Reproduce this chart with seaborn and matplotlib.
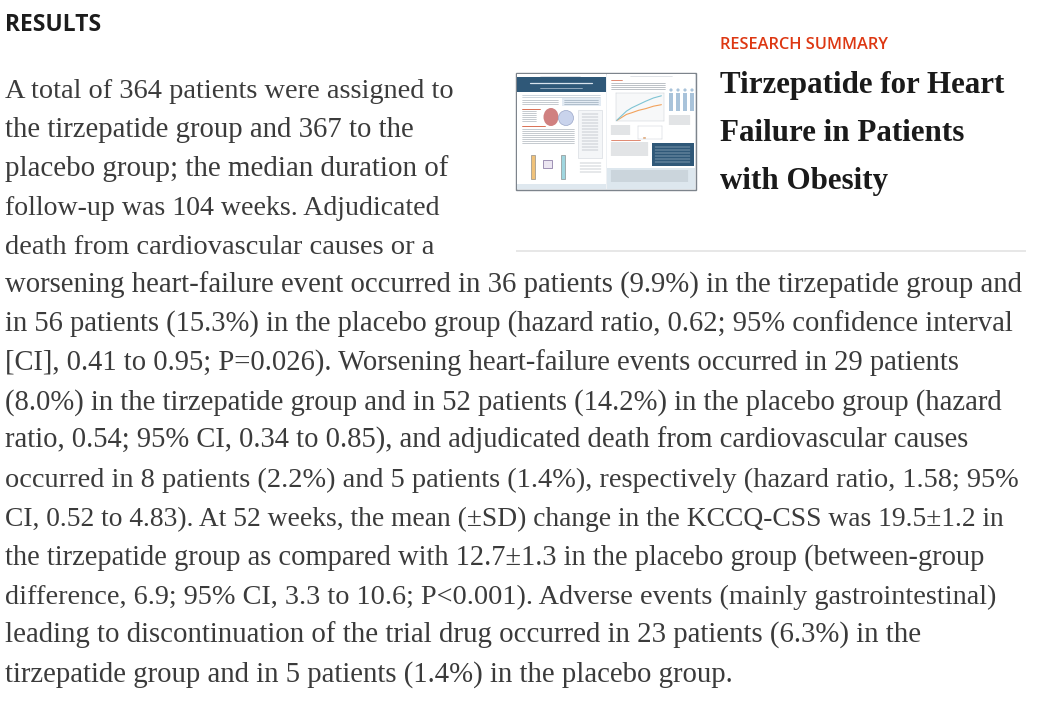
import matplotlib
matplotlib.use("Agg")
import matplotlib.pyplot as plt
import seaborn as sns
import pandas as pd
from matplotlib.patches import Rectangle, Ellipse

# ---------------- content ----------------
section_label = "RESULTS"
kicker = "RESEARCH SUMMARY"
title_lines = ["Tirzepatide for Heart", "Failure in Patients", "with Obesity"]

left_col_lines = [
    "A total of 364 patients were assigned to",
    "the tirzepatide group and 367 to the",
    "placebo group; the median duration of",
    "follow-up was 104 weeks. Adjudicated",
    "death from cardiovascular causes or a",
]
full_lines = [
    "worsening heart-failure event occurred in 36 patients (9.9%) in the tirzepatide group and",
    "in 56 patients (15.3%) in the placebo group (hazard ratio, 0.62; 95% confidence interval",
    "[CI], 0.41 to 0.95; P=0.026). Worsening heart-failure events occurred in 29 patients",
    "(8.0%) in the tirzepatide group and in 52 patients (14.2%) in the placebo group (hazard",
    "ratio, 0.54; 95% CI, 0.34 to 0.85), and adjudicated death from cardiovascular causes",
    "occurred in 8 patients (2.2%) and 5 patients (1.4%), respectively (hazard ratio, 1.58; 95%",
    "CI, 0.52 to 4.83). At 52 weeks, the mean (\u00b1SD) change in the KCCQ-CSS was 19.5\u00b11.2 in",
    "the tirzepatide group as compared with 12.7\u00b11.3 in the placebo group (between-group",
    "difference, 6.9; 95% CI, 3.3 to 10.6; P<0.001). Adverse events (mainly gastrointestinal)",
    "leading to discontinuation of the trial drug occurred in 23 patients (6.3%) in the",
    "tirzepatide group and in 5 patients (1.4%) in the placebo group.",
]
# right edge (px) of each typeset line in the reference layout
line_right_edges = [453, 413, 448, 439, 434,
                    1024, 1012, 960, 1004, 967, 1018, 1004, 986, 997, 922, 733]

# thumbnail mini chart (cumulative incidence, %)
thumb_weeks = [0, 12, 24, 36, 52, 68, 86, 104]
thumb_placebo = [0, 3, 6, 8, 10, 12, 14, 15.3]
thumb_tirz = [0, 2, 4, 5, 6.5, 7.5, 9, 9.9]
thumb_bar_groups = ["Tirzepatide", "Placebo"]
thumb_bar_values = [6.3, 1.4]

# ---------------- styling ----------------
sns.set_theme(style="white")
plt.rcParams["font.family"] = ["Liberation Serif", "DejaVu Sans"]

W, H = 1044, 703
fig = plt.figure(figsize=(W / 100, H / 100), dpi=100)
fig.patch.set_facecolor("white")
ax = fig.add_axes([0, 0, 1, 1])
ax.set_xlim(0, W)
ax.set_ylim(H, 0)
ax.axis("off")
renderer = fig.canvas.get_renderer()


def text_width(s, size, **kw):
    t = ax.text(0, 0, s, fontsize=size, **kw)
    w = t.get_window_extent(renderer=renderer).width
    t.remove()
    return w


def fit_size(s, target, **kw):
    return 20 * target / text_width(s, 20, **kw)


body_color = "#3b3b3b"
serif = ["Liberation Serif", "DejaVu Serif"]
sans = ["Open Sans", "DejaVu Sans"]

# header
rs = fit_size(section_label, 96, family=sans, fontweight="bold")
ax.text(5, 31, section_label, fontsize=rs, family=sans, fontweight="bold",
        color="#1c1c1c", va="baseline", ha="left")

ks = fit_size(kicker, 169, family=sans, fontweight="semibold")
ax.text(720, 49, kicker, fontsize=ks, family=sans, fontweight="semibold",
        color="#dd3712", va="baseline", ha="left")

ts = fit_size(title_lines[0], 285, family=serif, fontweight="bold")
for i, line in enumerate(title_lines):
    ax.text(720, 93 + 48 * i, line, fontsize=ts, family=serif, fontweight="bold",
            color="#1a1a1a", va="baseline", ha="left")

# separator
ax.plot([516, 1026], [250.5, 250.5], color="#e3e3e3", lw=1.2, solid_capstyle="butt")

# body text
pitch = 38.9
x0 = 5
all_lines = left_col_lines + full_lines
for i, (line, right) in enumerate(zip(all_lines, line_right_edges)):
    size = fit_size(line, right - x0, family=serif)
    ax.text(x0, 98 + pitch * i, line, fontsize=size, family=serif, color=body_color,
            va="baseline", ha="left")

# ---------------- thumbnail ----------------
ax.add_patch(Rectangle((516, 73), 180, 117, facecolor="#eef1f4", edgecolor="#7d848c", lw=1))
ax.add_patch(Rectangle((517, 74), 88.5, 115, facecolor="white", edgecolor="none"))
ax.add_patch(Rectangle((607, 74), 88, 115, facecolor="white", edgecolor="none"))
# left page header band
ax.add_patch(Rectangle((517, 77), 88.5, 15, facecolor="#2f5878", edgecolor="none"))
ax.plot([530, 592], [83, 83], color="#d9e4ee", lw=0.9)
ax.plot([540, 582], [87.5, 87.5], color="#b8c8d8", lw=0.5)
ax.plot([540, 580], [75.5, 75.5], color="#c9ced4", lw=0.4)
ax.plot([630, 672], [75.5, 75.5], color="#c9ced4", lw=0.4)
# left page text strips
for y in [94.5, 96.5]:
    ax.plot([522, 600], [y, y], color="#a8b6c4", lw=0.4)
for y in [100, 102, 104]:
    ax.plot([522, 558], [y, y], color="#9aa3ab", lw=0.4)
ax.add_patch(Rectangle((562, 98), 39, 8, facecolor="#e3ebf3", edgecolor="none"))
for y in [100, 102, 104]:
    ax.plot([564, 598], [y, y], color="#8a9cad", lw=0.4)
ax.plot([522, 540], [108.5, 108.5], color="#d35a3a", lw=0.6)
for y in [111, 113, 115, 117, 119, 121]:
    ax.plot([522, 536], [y, y], color="#9aa3ab", lw=0.4)
ax.add_patch(Ellipse((551, 117), 15, 18, facecolor="#c86a6a", edgecolor="none", alpha=0.85))
ax.add_patch(Ellipse((566, 118), 15, 15, facecolor="#c9d3ec", edgecolor="#9aa6c8", lw=0.5))
ax.plot([522, 545], [126, 126], color="#d35a3a", lw=0.6)
for y in [129, 131, 133, 135, 137, 139, 141, 143]:
    ax.plot([522, 574], [y, y], color="#9aa3ab", lw=0.4)
# sidebar
ax.add_patch(Rectangle((578, 110), 24, 48, facecolor="#f4f6f8", edgecolor="#d0d6dc", lw=0.4))
for y in [114, 117, 120, 123, 126, 129, 132, 135, 138, 141, 144, 147, 150]:
    ax.plot([582, 598], [y, y], color="#9aa3ab", lw=0.35)
for y in [163, 166, 169, 172]:
    ax.plot([580, 601], [y, y], color="#9aa3ab", lw=0.35)
# tubes
ax.add_patch(Rectangle((531, 155), 4, 24, facecolor="#f0c27a", edgecolor="#7a7a7a", lw=0.4))
ax.add_patch(Rectangle((561, 155), 4, 24, facecolor="#9fd6df", edgecolor="#7a7a7a", lw=0.4))
ax.add_patch(Rectangle((543, 160), 9, 8, facecolor="#ece6f2", edgecolor="#7b6a9a", lw=0.5))
# left footer
ax.add_patch(Rectangle((517, 184), 88.5, 5, facecolor="#dfe8ef", edgecolor="none"))
# right page text
ax.plot([611, 622], [80, 80], color="#d35a3a", lw=0.5)
for y in [83, 85, 87, 89]:
    ax.plot([611, 665], [y, y], color="#8a939b", lw=0.4)
# silhouettes
for cx in [671, 678, 685, 692]:
    ax.add_patch(Ellipse((cx, 90), 3.2, 3.2, facecolor="#a9c3da", edgecolor="none"))
    ax.add_patch(Rectangle((cx - 2.2, 92.5), 4.4, 18, facecolor="#a9c3da", edgecolor="none"))
for y in [116, 118, 120, 122, 124]:
    ax.plot([669, 690], [y, y], color="#8a939b", lw=0.35)
for y in [126, 128, 130, 132, 134]:
    ax.plot([611, 630], [y, y], color="#8a939b", lw=0.35)
ax.plot([611, 640], [140, 140], color="#d35a3a", lw=0.5)
for y in [143, 145, 147, 149, 151, 153, 155]:
    ax.plot([611, 648], [y, y], color="#8a939b", lw=0.35)
ax.add_patch(Rectangle((652, 143), 42, 23, facecolor="#2f5878", edgecolor="none"))
for y in [147, 150, 153, 156, 159, 162]:
    ax.plot([655, 690], [y, y], color="#c7d4e0", lw=0.35)
ax.add_patch(Rectangle((607, 168), 88, 21, facecolor="#dde7ee", edgecolor="none"))
for y in [171, 173, 175, 177, 179, 181]:
    ax.plot([611, 688], [y, y], color="#8a939b", lw=0.3)


def px_axes(x, y, w, h):
    return fig.add_axes([x / W, 1 - (y + h) / H, w / W, h / H])


# mini line chart
ca = px_axes(616, 93, 48, 28)
df = pd.DataFrame({
    "week": thumb_weeks * 2,
    "pct": thumb_tirz + thumb_placebo,
    "group": ["Tirzepatide"] * len(thumb_weeks) + ["Placebo"] * len(thumb_weeks),
})
sns.lineplot(data=df, x="week", y="pct", hue="group", ax=ca, legend=False,
             palette={"Tirzepatide": "#f2a25c", "Placebo": "#7fc4d4"}, linewidth=0.8)
ca.set_xlim(0, 110)
ca.set_ylim(0, 17)
ca.set_xticks([])
ca.set_yticks([])
ca.set_xlabel("")
ca.set_ylabel("")
ca.set_facecolor("#f7f8f9")
for s in ca.spines.values():
    s.set_linewidth(0.3)
    s.set_color("#c5cacf")
ca.grid(True, color="#e2e5e8", lw=0.3)

# mini bar chart
ba = px_axes(638, 126, 24, 13)
sns.barplot(x=thumb_bar_groups, y=thumb_bar_values, ax=ba,
            palette=["#f2a25c", "#7fc4d4"], hue=thumb_bar_groups, legend=False, width=0.4)
ba.set_ylim(0, 30)
ba.set_xticks([])
ba.set_yticks([])
ba.set_facecolor("white")
for s in ba.spines.values():
    s.set_linewidth(0.3)
    s.set_color("#c5cacf")

fig.savefig("out.png", dpi=100, facecolor="white")
